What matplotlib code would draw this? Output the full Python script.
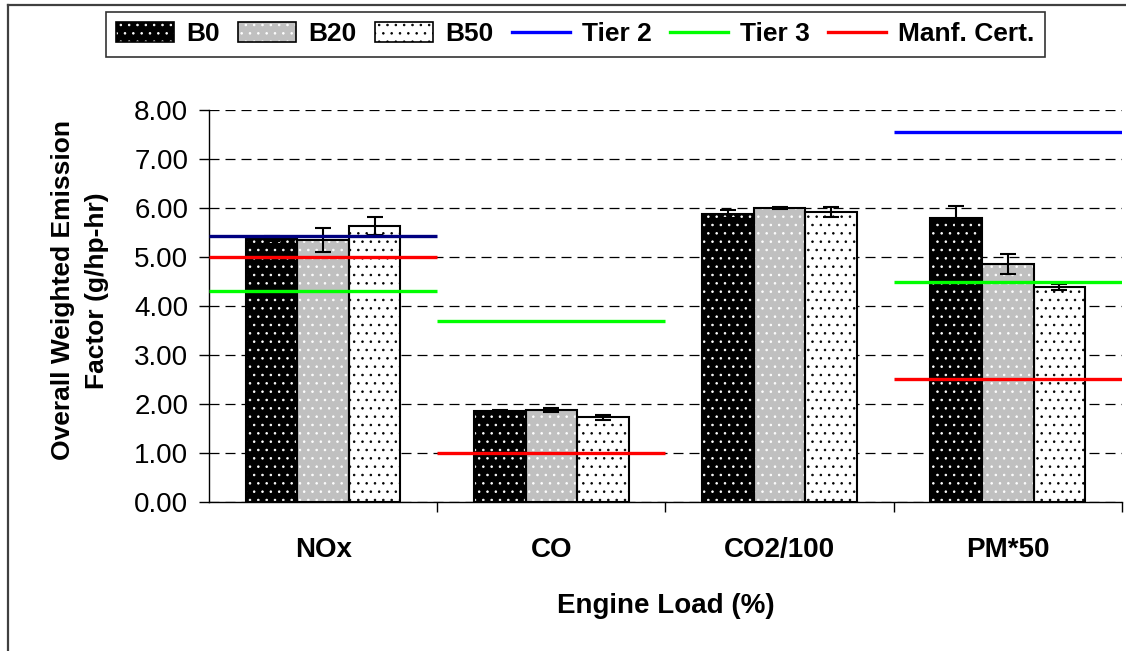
import matplotlib.pyplot as plt
import numpy as np
from matplotlib.patches import Patch
from matplotlib.lines import Line2D

plt.rcParams['font.family'] = ['Liberation Sans', 'DejaVu Sans']
plt.rcParams['hatch.linewidth'] = 0.6

categories = ['NOx', 'CO', 'CO2/100', 'PM*50']
b0 = [5.37, 1.86, 5.87, 5.80]
b0_err = [0.05, 0.02, 0.08, 0.24]
b20 = [5.35, 1.87, 6.00, 4.86]
b20_err = [0.25, 0.04, 0.03, 0.20]
b50 = [5.63, 1.73, 5.92, 4.39]
b50_err = [0.18, 0.05, 0.10, 0.06]

# standard lines per category (None = no line)
tier2 = [5.43, None, None, 7.55]
tier3 = [4.30, 3.70, None, 4.50]
manf = [5.00, 1.00, None, 2.50]

fig = plt.figure(figsize=(11.26, 6.51), dpi=100)
ax = fig.add_axes([0.1856, 0.2289, 0.8108, 0.6021])

x = np.arange(len(categories))
w = 0.226
series = [(b0, b0_err, 'black', 'white'),
          (b20, b20_err, '#C0C0C0', 'white'),
          (b50, b50_err, 'white', 'black')]
handles = []
for i, (vals, errs, fc, hc) in enumerate(series):
    pos = x + (i - 1) * w
    ax.bar(pos, vals, w, color=fc, edgecolor=hc, hatch='..', linewidth=0, zorder=2)
    ax.bar(pos, vals, w, fill=False, edgecolor='black', linewidth=1.5, zorder=3)
    ax.errorbar(pos, vals, yerr=errs, fmt='none', ecolor='black', elinewidth=1.5,
                capsize=6, capthick=1.5, zorder=4)
    handles.append((Patch(facecolor=fc, edgecolor=hc, hatch='..', linewidth=0),
                    Patch(fill=False, edgecolor='black', linewidth=1.2)))

line_cols = [(tier2, '#0000FF'), (tier3, '#00FF00'), (manf, '#FF0000')]
for vals, col in line_cols:
    for i, v in enumerate(vals):
        if v is None:
            continue
        c = col
        if col == '#0000FF' and i == 0:
            c = '#000080'
        ax.plot([i - 0.5, i + 0.5], [v, v], color=c, linewidth=2.4, zorder=5,
                solid_capstyle='butt')
    handles.append(Line2D([], [], color=col, linewidth=2.4))

ax.set_xlim(-0.5, 3.5)
ax.set_ylim(0, 8)
ax.set_yticks(np.arange(0, 8.01, 1))
ax.set_yticklabels(['%.2f' % t for t in np.arange(0, 8.01, 1)], fontsize=20)
ax.set_xticks(x)
ax.set_xticklabels(categories, fontsize=20, fontweight='bold')
ax.set_xticks(np.arange(0.5, 4, 1), minor=True)
ax.tick_params(axis='x', which='major', length=0, pad=25)
ax.tick_params(axis='x', which='minor', length=7, width=1, direction='out')
ax.tick_params(axis='y', length=7, width=1, direction='out', pad=8)
ax.yaxis.grid(True, linestyle=(0, (8, 4.8)), color='black', linewidth=0.9, zorder=0)
ax.set_axisbelow(True)
for s in ['top', 'right']:
    ax.spines[s].set_visible(False)
ax.spines['left'].set_linewidth(1)
ax.spines['bottom'].set_linewidth(1)

ax.set_xlabel('Engine Load (%)', fontsize=20, fontweight='bold', labelpad=22)
ax.set_ylabel('Overall Weighted Emission\nFactor (g/hp-hr)', fontsize=19,
              fontweight='bold', linespacing=1.5)
ax.yaxis.set_label_coords(-0.11, 0.54)

labels = ['B0', 'B20', 'B50', 'Tier 2', 'Tier 3', 'Manf. Cert.']
leg = fig.legend(handles, labels, loc='upper center', bbox_to_anchor=(0.511, 0.982),
                 ncol=6, frameon=True, fancybox=False, edgecolor='black',
                 prop={'size': 19, 'weight': 'bold'}, handlelength=2.2,
                 handleheight=0.75, columnspacing=0.7, handletextpad=0.45,
                 borderpad=0.4, borderaxespad=0)
leg.get_frame().set_linewidth(1.2)

# outer chart border (left and top visible)
fig.add_artist(Line2D([8 / 1126, 8 / 1126], [0, 1 - 5 / 651], color='#404040', linewidth=1.6))
fig.add_artist(Line2D([8 / 1126, 1], [1 - 5 / 651, 1 - 5 / 651], color='#404040', linewidth=1.6))

fig.savefig('out.png', dpi=100)
